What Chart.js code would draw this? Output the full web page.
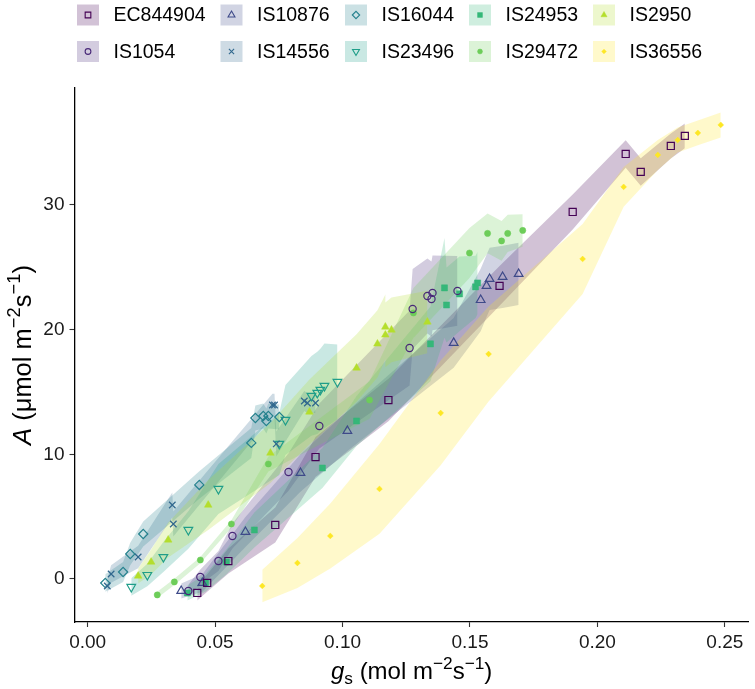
<!DOCTYPE html>
<html><head><meta charset="utf-8">
<script src="https://cdn.jsdelivr.net/npm/chart.js@4/dist/chart.umd.min.js"></script>
<style>html,body{margin:0;padding:0;background:#fff;}#wrap{width:755px;height:689px;position:relative;}</style>
</head><body><div id="wrap"><canvas id="c" width="755" height="689"></canvas></div>
<script>
const seriesNames = ['EC844904','IS1054','IS10876','IS14556','IS16044','IS23496','IS24953','IS29472','IS2950','IS36556'];
const seriesColors = ['#440154','#482878','#3E4A89','#31688E','#26828E','#1F9E89','#35B779','#6DCD59','#B4DE2C','#FDE725'];
const xTicks = [0, 0.05, 0.10, 0.15, 0.20, 0.25];
const yTicks = [0, 10, 20, 30];

const gs_EC844904 = [0.0430, 0.0469, 0.0552, 0.0736, 0.0894, 0.1180, 0.1616, 0.1903, 0.2111, 0.2170, 0.2288, 0.2343];
const A_EC844904  = [-1.12, -0.32, 1.44, 4.33, 9.78, 14.35, 23.50, 29.43, 34.08, 32.64, 34.72, 35.53];
const se_EC844904 = [0.6, 0.7, 1.0, 1.4, 1.6, 1.7, 1.6, 1.4, 1.1, 1.1, 1.0, 1.0];

const gs_IS1054 = [0.0395, 0.0442, 0.0513, 0.0568, 0.0788, 0.0909, 0.1263, 0.1275, 0.1333, 0.1349, 0.1353, 0.1451];
const A_IS1054  = [-0.96, 0.16, 1.44, 3.45, 8.58, 12.27, 18.52, 21.65, 22.69, 22.45, 22.94, 23.10];
const se_IS1054 = [0.5, 0.6, 0.8, 1.0, 1.5, 1.8, 3.0, 3.2, 3.0, 3.0, 3.0, 2.8];

const gs_IS10876 = [0.0367, 0.0450, 0.0619, 0.0835, 0.1019, 0.1436, 0.1542, 0.1565, 0.1577, 0.1628, 0.1691];
const A_IS10876  = [-0.96, -0.32, 3.77, 8.50, 11.87, 18.93, 22.37, 23.50, 24.06, 24.22, 24.46];
const se_IS10876 = [0.6, 0.7, 1.2, 1.5, 1.6, 2.0, 2.5, 2.5, 2.5, 2.5, 2.5];

const gs_IS14556 = [0.0077, 0.0092, 0.0198, 0.0332, 0.0336, 0.0725, 0.0733, 0.0740, 0.0850, 0.0862, 0.0894];
const A_IS14556  = [-0.56, 0.40, 1.76, 5.93, 4.41, 13.95, 13.95, 10.83, 14.27, 14.11, 14.11];
const se_IS14556 = [0.6, 0.7, 0.9, 1.0, 1.0, 0.9, 0.9, 1.0, 0.8, 0.8, 0.8];

const gs_IS16044 = [0.0069, 0.0139, 0.0167, 0.0218, 0.0438, 0.0642, 0.0658, 0.0689, 0.0701, 0.0709, 0.0752];
const A_IS16044  = [-0.32, 0.56, 2.00, 3.61, 7.54, 10.91, 12.91, 13.07, 12.67, 13.07, 12.99];
const se_IS16044 = [0.7, 0.8, 0.9, 1.0, 1.1, 1.2, 1.0, 1.0, 1.0, 1.0, 1.0];

const gs_IS23496 = [0.0171, 0.0234, 0.0297, 0.0395, 0.0513, 0.0752, 0.0776, 0.0878, 0.0901, 0.0913, 0.0929, 0.0980];
const A_IS23496  = [-0.64, 0.32, 1.76, 3.93, 7.22, 10.83, 12.75, 14.68, 14.92, 15.16, 15.48, 15.80];
const se_IS23496 = [0.7, 0.9, 1.2, 1.5, 2.0, 2.5, 2.8, 3.2, 3.3, 3.3, 3.4, 3.0];

const gs_IS24953 = [0.0391, 0.0462, 0.0544, 0.0654, 0.0921, 0.1055, 0.1345, 0.1400, 0.1408, 0.1459, 0.1522, 0.1530];
const A_IS24953  = [-1.12, -0.32, 1.36, 3.93, 8.90, 12.67, 18.85, 23.34, 21.97, 22.86, 23.42, 23.74];
const se_IS24953 = [0.6, 0.7, 1.0, 1.4, 1.6, 2.0, 3.0, 4.0, 3.0, 3.0, 2.5, 2.5];

const gs_IS29472 = [0.0273, 0.0340, 0.0442, 0.0564, 0.0709, 0.1106, 0.1278, 0.1498, 0.1569, 0.1624, 0.1648, 0.1707];
const A_IS29472  = [-1.28, -0.24, 1.52, 4.41, 9.22, 14.35, 21.33, 26.14, 27.71, 27.11, 27.71, 27.95];
const se_IS29472 = [0.25, 0.25, 0.25, 0.3, 0.6, 1.5, 2.0, 2.0, 1.6, 1.6, 1.5, 1.3];

const gs_IS2950 = [0.0198, 0.0249, 0.0316, 0.0473, 0.0717, 0.0870, 0.1055, 0.1137, 0.1168, 0.1168, 0.1192, 0.1333];
const A_IS2950  = [0.24, 1.36, 3.13, 5.93, 10.10, 13.39, 16.92, 18.85, 20.21, 19.57, 19.97, 20.61];
const se_IS2950 = [0.6, 1.0, 1.4, 2.0, 2.4, 2.6, 2.7, 2.7, 2.6, 2.6, 2.6, 2.5];

const gs_IS36556 = [0.0685, 0.0823, 0.0952, 0.1145, 0.1385, 0.1573, 0.1942, 0.2103, 0.2237, 0.2315, 0.2394, 0.2484];
const A_IS36556  = [-0.56, 1.28, 3.45, 7.22, 13.31, 18.04, 25.66, 31.44, 34.00, 35.20, 35.77, 36.41];
const se_IS36556 = [1.3, 2.0, 2.6, 3.6, 4.2, 3.8, 2.8, 1.6, 1.2, 1.0, 1.0, 1.0];

const seriesData = [
  [gs_EC844904, A_EC844904, se_EC844904],
  [gs_IS1054, A_IS1054, se_IS1054],
  [gs_IS10876, A_IS10876, se_IS10876],
  [gs_IS14556, A_IS14556, se_IS14556],
  [gs_IS16044, A_IS16044, se_IS16044],
  [gs_IS23496, A_IS23496, se_IS23496],
  [gs_IS24953, A_IS24953, se_IS24953],
  [gs_IS29472, A_IS29472, se_IS29472],
  [gs_IS2950, A_IS2950, se_IS2950],
  [gs_IS36556, A_IS36556, se_IS36556]
];

// marker styling (not data)
const mkStyle  = ['rect','circle','triangle','crossRot','rectRot','triangle','rect','circle','triangle','rectRot'];
const mkRot    = [0,0,0,0,0,180,0,0,0,0];
const mkFilled = [false,false,false,false,false,false,true,true,true,true];
const mkRadius = [5,3.6,5,4.6,4.6,5,4.3,3.1,4.4,2.9];

function rgba(hex, a){
  const n = parseInt(hex.slice(1),16);
  return `rgba(${(n>>16)&255},${(n>>8)&255},${n&255},${a})`;
}
const RIB_A = 0.24;

const datasets = [];
seriesData.forEach((s, i) => {
  const [gx, ay, se] = s;
  const col = seriesColors[i];
  datasets.push({
    data: gx.map((x,k)=>({x, y: ay[k] + se[k]})),
    borderWidth: 0, borderColor: 'rgba(0,0,0,0)', pointRadius: 0, fill: false,
    order: 200 - i, tension: 0
  });
  datasets.push({
    data: gx.map((x,k)=>({x, y: ay[k] - se[k]})),
    borderWidth: 0, borderColor: 'rgba(0,0,0,0)', pointRadius: 0,
    fill: '-1', backgroundColor: rgba(col, RIB_A),
    order: 200 - i, tension: 0
  });
});
seriesData.forEach((s, i) => {
  const [gx, ay] = s;
  datasets.push({
    data: gx.map((x,k)=>({x, y: ay[k]})),
    showLine: false,
    pointStyle: mkStyle[i], pointRotation: mkRot[i], pointRadius: mkRadius[i],
    pointBorderWidth: mkFilled[i] ? 0.5 : 1.2,
    pointBorderColor: seriesColors[i],
    pointBackgroundColor: mkFilled[i] ? seriesColors[i] : 'rgba(0,0,0,0)',
    fill: false, order: 1
  });
});

const FONT = "'Liberation Sans', Arial, Helvetica, sans-serif";
Chart.defaults.font.family = FONT;

function drawRich(ctx, parts, size){
  let w = 0;
  const items = parts.map(p => {
    const fs = size * (p.s || 1);
    const f = (p.i ? 'italic ' : '') + fs + 'px ' + FONT;
    ctx.font = f;
    const mw = ctx.measureText(p.t).width;
    const it = {t:p.t, f, x:w, dy:(p.dy||0)*size};
    w += mw;
    return it;
  });
  return {w, items};
}
function renderRich(ctx, r){
  r.items.forEach(it => { ctx.font = it.f; ctx.fillText(it.t, it.x - r.w/2, it.dy); });
}

const titlePlugin = {
  id: 'titlesLegend',
  afterDraw(chart){
    const ctx = chart.ctx;
    const ca = chart.chartArea;
    ctx.save();
    ctx.fillStyle = '#000';
    ctx.textBaseline = 'alphabetic';
    ctx.textAlign = 'left';
    const xParts = [{t:'g', i:true},{t:'s', s:0.72, dy:0.2},{t:' (mol m'},{t:'\u22122', s:0.72, dy:-0.42},{t:'s'},{t:'\u22121', s:0.72, dy:-0.42},{t:')'}];
    const rx = drawRich(ctx, xParts, 24);
    ctx.save(); ctx.translate((ca.left + ca.right)/2, 679); renderRich(ctx, rx); ctx.restore();
    const yParts = [{t:'A', i:true},{t:' (\u03BCmol m'},{t:'\u22122', s:0.72, dy:-0.42},{t:'s'},{t:'\u22121', s:0.72, dy:-0.42},{t:')'}];
    const ry = drawRich(ctx, yParts, 25.5);
    ctx.save(); ctx.translate(31, (ca.top + ca.bottom)/2); ctx.rotate(-Math.PI/2); renderRich(ctx, ry); ctx.restore();

    const colX = [77, 220.5, 345, 469, 593], rowY = [15, 51.5];
    seriesNames.forEach((name, i) => {
      const c = Math.floor(i/2), r = i % 2;
      const kx = colX[c], cy = rowY[r];
      ctx.fillStyle = rgba(seriesColors[i], 0.24);
      ctx.fillRect(kx, cy - 10.5, 22, 21);
      ctx.fillStyle = mkFilled[i] ? seriesColors[i] : 'rgba(0,0,0,0)';
      ctx.strokeStyle = seriesColors[i];
      ctx.lineWidth = mkFilled[i] ? 0.5 : 1.1;
      Chart.helpers.drawPoint(ctx, {pointStyle: mkStyle[i], radius: mkRadius[i]*0.8, rotation: mkRot[i], borderWidth: ctx.lineWidth}, kx + 11, cy);
      ctx.fillStyle = '#000';
      ctx.font = '19.5px ' + FONT;
      ctx.textBaseline = 'middle';
      ctx.fillText(name, kx + 36.5, cy + 1);
    });
    ctx.restore();
  }
};

new Chart(document.getElementById('c'), {
  type: 'line',
  data: { datasets },
  options: {
    responsive: false, animation: false, devicePixelRatio: 1,
    layout: { padding: { top: 88, right: 0, bottom: 0, left: 0 } },
    plugins: { legend: { display: false }, tooltip: { enabled: false } },
    elements: { line: { tension: 0 } },
    scales: {
      x: {
        type: 'linear', min: -0.00517, max: 0.2594,
        afterBuildTicks: s => { s.ticks = xTicks.map(v => ({value: v})); },
        afterFit: s => { s.height = 67; },
        ticks: { callback: v => v.toFixed(2), font: { size: 19 }, color: '#1a1a1a', padding: 4, maxRotation: 0 },
        grid: { drawOnChartArea: false, drawTicks: true, tickLength: 5, color: '#333', tickWidth: 1.1 },
        border: { display: true, color: '#000', width: 1.3 }
      },
      y: {
        type: 'linear', min: -3.45, max: 39.37,
        afterBuildTicks: s => { s.ticks = yTicks.map(v => ({value: v})); },
        afterFit: s => { s.width = 74.5; },
        ticks: { callback: v => String(v), font: { size: 19 }, color: '#1a1a1a', padding: 5 },
        grid: { drawOnChartArea: false, drawTicks: true, tickLength: 5, color: '#333', tickWidth: 1.1 },
        border: { display: true, color: '#000', width: 1.3 }
      }
    }
  },
  plugins: [titlePlugin]
});
</script>
</body></html>
